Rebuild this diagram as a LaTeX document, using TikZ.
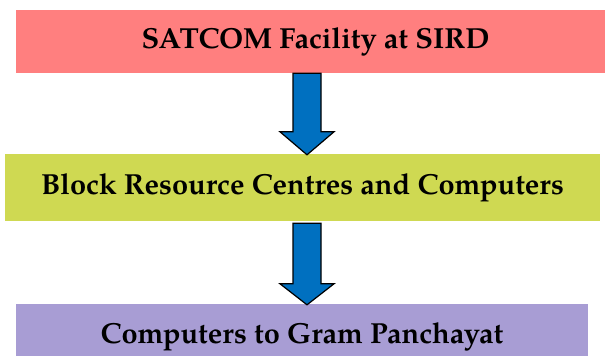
\documentclass[tikz,border=0pt]{standalone}
\usepackage{fontspec}
\setmainfont{texgyrepagella}[Extension=.otf,UprightFont=*-regular,BoldFont=*-bold]
\usepackage{xcolor}
\definecolor{satpink}{RGB}{255,127,127}
\definecolor{brcgreen}{RGB}{207,217,82}
\definecolor{gplavender}{RGB}{168,157,212}
\definecolor{arrblue}{RGB}{0,112,192}
\usetikzlibrary{calc}

\begin{document}
\begin{tikzpicture}[x=1pt, y=-1pt,
  box/.style={inner sep=0pt, font=\fontsize{29}{34}\selectfont\bfseries, align=center},
  blockarr/.style={fill=arrblue, draw=black, line width=1.2pt, line join=miter}]
\clip (0,0) rectangle (605,356);
% boxes
\node[box, fill=satpink, minimum width=599pt, minimum height=63pt] (sat) at (315.5,41.5) {SATCOM Facility at SIRD};
\node[box, fill=brcgreen, minimum width=595pt, minimum height=67pt] (brc) at (302.5,187.5) {Block Resource Centres and Computers};
\node[box, fill=gplavender, minimum width=572pt, minimum height=66pt] (gp) at (302,337) {Computers to Gram Panchayat};
% block arrows
\draw[blockarr] ($(sat.south)+(-22.5,0)$) -- ($(brc.north)+(-9.5,-22)$) -- ($(brc.north)+(-22.5,-22)$) -- ($(brc.north)+(4.5,1)$)
  -- ($(brc.north)+(31.5,-22)$) -- ($(brc.north)+(18.5,-22)$) -- ($(sat.south)+(5.5,0)$) -- cycle;
\draw[blockarr] ($(brc.south)+(-9.5,2)$) -- ($(gp.north)+(-9,-20)$) -- ($(gp.north)+(-22,-20)$) -- ($(gp.north)+(5,1)$)
  -- ($(gp.north)+(32,-20)$) -- ($(gp.north)+(19,-20)$) -- ($(brc.south)+(18.5,2)$) -- cycle;
\end{tikzpicture}
\end{document}
